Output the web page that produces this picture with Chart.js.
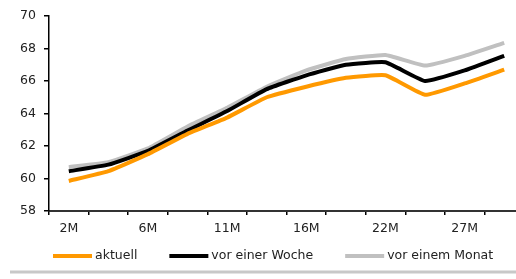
<!DOCTYPE html>
<html>
<head>
<meta charset="utf-8">
<script src="https://cdn.jsdelivr.net/npm/chart.js@4"></script>
<style>
  html, body { margin: 0; padding: 0; overflow: hidden; background: #fff; }
  #wrap { width: 530px; height: 279px; }
</style>
</head>
<body>
<div id="wrap"><canvas id="c" width="530" height="279"></canvas></div>
<script>
const categories = ['2M','4M','6M','9M','11M','14M','16M','19M','22M','24M','27M','29M'];
const aktuell      = [59.85, 60.45, 61.5, 62.75, 63.75, 65.0, 65.65, 66.2, 66.35, 65.15, 65.85, 66.7];
const vorEinerWoche = [60.45, 60.85, 61.7, 62.95, 64.15, 65.5, 66.35, 67.0, 67.15, 66.0, 66.65, 67.55];
const vorEinemMonat = [60.7, 61.0, 61.85, 63.2, 64.35, 65.65, 66.65, 67.35, 67.6, 66.95, 67.55, 68.35];
const seriesNames = ['aktuell', 'vor einer Woche', 'vor einem Monat'];
const yTicks = [58, 60, 62, 64, 66, 68, 70];

const FONT = { family: 'DejaVu Sans', size: 12.5 };
Chart.defaults.font.family = FONT.family;
Chart.defaults.font.size = FONT.size;
Chart.defaults.color = '#222';

const legendAndRule = {
  id: 'legendAndRule',
  afterDraw(chart) {
    const ctx = chart.ctx;
    ctx.save();
    ctx.strokeStyle = '#c8c8c8';
    ctx.lineWidth = 3;
    ctx.beginPath();
    ctx.moveTo(10, 272);
    ctx.lineTo(chart.width, 272);
    ctx.stroke();
    ctx.font = FONT.size + 'px "' + FONT.family + '"';
    ctx.textBaseline = 'middle';
    ctx.textAlign = 'left';
    let x = 53;
    const y = 256;
    chart.data.datasets.forEach(ds => {
      ctx.strokeStyle = ds.borderColor;
      ctx.lineWidth = 4;
      ctx.lineCap = 'butt';
      ctx.beginPath();
      ctx.moveTo(x, y);
      ctx.lineTo(x + 39, y);
      ctx.stroke();
      x += 42;
      ctx.fillStyle = '#222';
      ctx.fillText(ds.label, x, y);
      x += ctx.measureText(ds.label).width + 32;
    });
    ctx.restore();
  }
};

new Chart(document.getElementById('c'), {
  type: 'line',
  data: {
    labels: categories,
    datasets: [
      { label: seriesNames[0], data: aktuell, borderColor: '#ff9900', backgroundColor: '#ff9900' },
      { label: seriesNames[1], data: vorEinerWoche, borderColor: '#000000', backgroundColor: '#000000' },
      { label: seriesNames[2], data: vorEinemMonat, borderColor: '#c0c0c0', backgroundColor: '#c0c0c0' }
    ].map(d => Object.assign(d, { borderWidth: 4, pointRadius: 0, tension: 0.12, fill: false }))
  },
  options: {
    responsive: false,
    animation: false,
    devicePixelRatio: 1,
    layout: { padding: { top: 16, right: 6, left: 0, bottom: 0 } },
    plugins: { legend: { display: false }, tooltip: { enabled: false } },
    scales: {
      x: {
        offset: true,
        grid: { offset: true, drawOnChartArea: false, drawTicks: true, tickLength: 4, tickColor: '#000', lineWidth: 1.5 },
        border: { color: '#333', width: 2 },
        ticks: {
          autoSkip: false, maxRotation: 0, padding: 6,
          callback: function(v, i) { return i % 2 === 0 ? this.getLabelForValue(v) : ''; }
        },
        afterFit(scale) { scale.height = 68; }
      },
      y: {
        min: 58, max: 70,
        afterBuildTicks(scale) { scale.ticks = yTicks.map(v => ({ value: v })); },
        grid: { drawOnChartArea: false, drawTicks: true, tickLength: 5, tickColor: '#000', lineWidth: 1.5 },
        border: { color: '#000', width: 1.5 },
        ticks: { padding: 8 },
        afterFit(scale) { scale.width = 49; }
      }
    }
  },
  plugins: [legendAndRule]
});
</script>
</body>
</html>
